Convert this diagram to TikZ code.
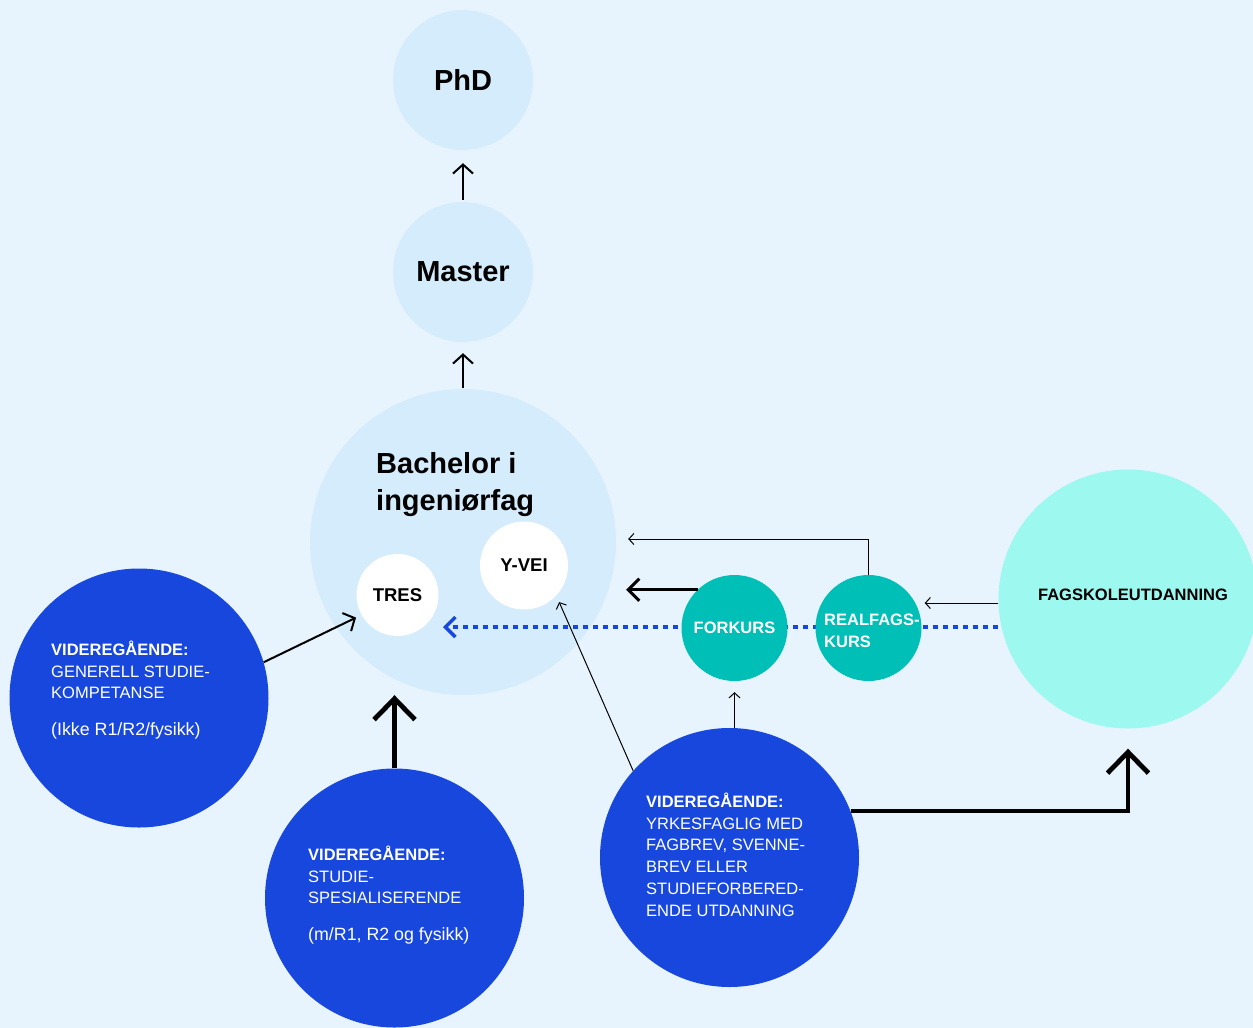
\documentclass[tikz,border=0pt]{standalone}
\usepackage{fontspec}
\setmainfont{Liberation Sans}
\usetikzlibrary{arrows.meta}
\definecolor{bg}{HTML}{E8F4FD}
\definecolor{pale}{HTML}{D4ECFB}
\definecolor{royal}{HTML}{1747DD}
\definecolor{tealc}{HTML}{00BFB6}
\definecolor{aqua}{HTML}{9DF8EF}
\begin{document}
\begin{tikzpicture}[x=1pt,y=-1pt,
  palec/.style={circle,fill=pale,inner sep=0pt,minimum size=#1},
  whitec/.style={circle,fill=white,inner sep=0pt,minimum size=#1,font=\bfseries\fontsize{18.5}{22}\selectfont},
  teal/.style={circle,fill=tealc,inner sep=0pt,minimum size=#1,text=white,font=\bfseries\fontsize{16.5}{22}\selectfont},
  royalc/.style={circle,fill=royal,inner sep=0pt,minimum size=#1},
  bigtitle/.style={font=\bfseries\fontsize{29}{37}\selectfont},
  vgstext/.style={anchor=north west,inner sep=0pt,align=left,text=white,font=\fontsize{16.5}{21.8}\selectfont},
  thinarrow/.style={line width=1pt,-{Straight Barb[length=5pt,width=11pt]}},
  midarrow/.style={line width=2pt,-{Straight Barb[length=9pt,width=20pt]}},
  fatarrow/.style={line width=3pt,-{Straight Barb[length=11pt,width=22pt]}},
  hugearrow/.style={line width=4.8pt,-{Straight Barb[length=21pt,width=41pt]}},
  bluedots/.style={draw=royal,line width=4.5pt,dash pattern=on 5pt off 5pt,-{Straight Barb[length=10pt,width=20pt,line width=3.5pt]}}
]
\useasboundingbox (0,0) rectangle (1253,1028);
\clip (0,0) rectangle (1253,1028);
\fill[bg] (0,0) rectangle (1253,1028);

% upper circles
\node[palec=140pt,bigtitle] (phd) at (463,80) {PhD};
\node[palec=140pt,bigtitle] (master) at (463,272) {Master};
\node[palec=306pt] (bach) at (463,542) {};
\node[bigtitle,anchor=north west,inner sep=0pt,align=left] (bachtxt) at (376,443) {\rule{0pt}{30pt}Bachelor i\\ingeniørfag};
\node[whitec=82pt] (tres) at (397.5,595) {TRES};
\node[whitec=88pt] (yvei) at (524,565.5) {Y-VEI};

% fagskole
\node[circle,fill=aqua,inner sep=0pt,minimum size=259pt] (fag) at (1128,599) {};
\node[font=\bfseries\fontsize{16.5}{20}\selectfont,inner sep=0pt] (fagtxt) at (1133,595) {FAGSKOLEUTDANNING};

% dotted blue line
\coordinate (dl) at (443,627);
\draw[bluedots] (dl -| fag.west) -- (dl);

% teal circles
\node[teal=106pt] (fork) at (734.5,628) {FORKURS};
\node[teal=106pt] (real) at (868.5,628) {};
\node[anchor=north west,inner sep=0pt,align=left,text=white,font=\bfseries\fontsize{16.5}{22}\selectfont] (realtxt) at (824,609) {\rule{0pt}{16pt}REALFAGS-\\KURS};

% videregaaende circles
\node[royalc=259pt] (lvgs) at (139,698) {};
\node[vgstext] (ltxt) at (51,639) {\rule{0pt}{16pt}\textbf{VIDEREGÅENDE:}\\GENERELL STUDIE-\\KOMPETANSE\\[15pt]{\fontsize{17.8}{21.8}\selectfont(Ikke R1/R2/fysikk)}};
\node[royalc=259pt] (bvgs) at (394.5,898) {};
\node[vgstext] (btxt) at (308,844) {\rule{0pt}{16pt}\textbf{VIDEREGÅENDE:}\\STUDIE-\\SPESIALISERENDE\\[15pt]{\fontsize{17.8}{21.8}\selectfont(m/R1, R2 og fysikk)}};
\node[royalc=259pt] (rvgs) at (729.5,857.5) {};
\node[vgstext] (rtxt) at (646,791) {\rule{0pt}{16pt}\textbf{VIDEREGÅENDE:}\\YRKESFAGLIG MED\\FAGBREV, SVENNE-\\BREV ELLER\\STUDIEFORBERED-\\ENDE UTDANNING};

% arrows
\draw[midarrow,shorten <=2pt,shorten >=13pt] (master.north) -- (phd.south);
\draw[midarrow,shorten <=1pt,shorten >=11pt] (bach.north) -- (master.south);
\draw[midarrow,shorten >=6pt] (lvgs.16) -- (tres.209);
\draw[hugearrow] (bvgs.north) -- (bvgs.north |- bach.south);
\draw[thinarrow,shorten >=11pt] (rvgs.north -| fork.south) -- (fork.south);
\draw[thinarrow,shorten >=7pt] (rvgs.138) -- (yvei.317);
\draw[hugearrow,shorten >=20pt] (rvgs.21) -| (fag.south);
\draw[fatarrow,shorten >=10pt] (fork.134) -- (fork.134 -| bach.east);
\draw[thinarrow,shorten >=12pt] (real.north) |- ([yshift=3pt]bach.east);
\draw[thinarrow,shorten >=3pt] ([yshift=-4pt]fag.west) -- ([yshift=-4pt]fag.west -| real.east);
\end{tikzpicture}
\end{document}
